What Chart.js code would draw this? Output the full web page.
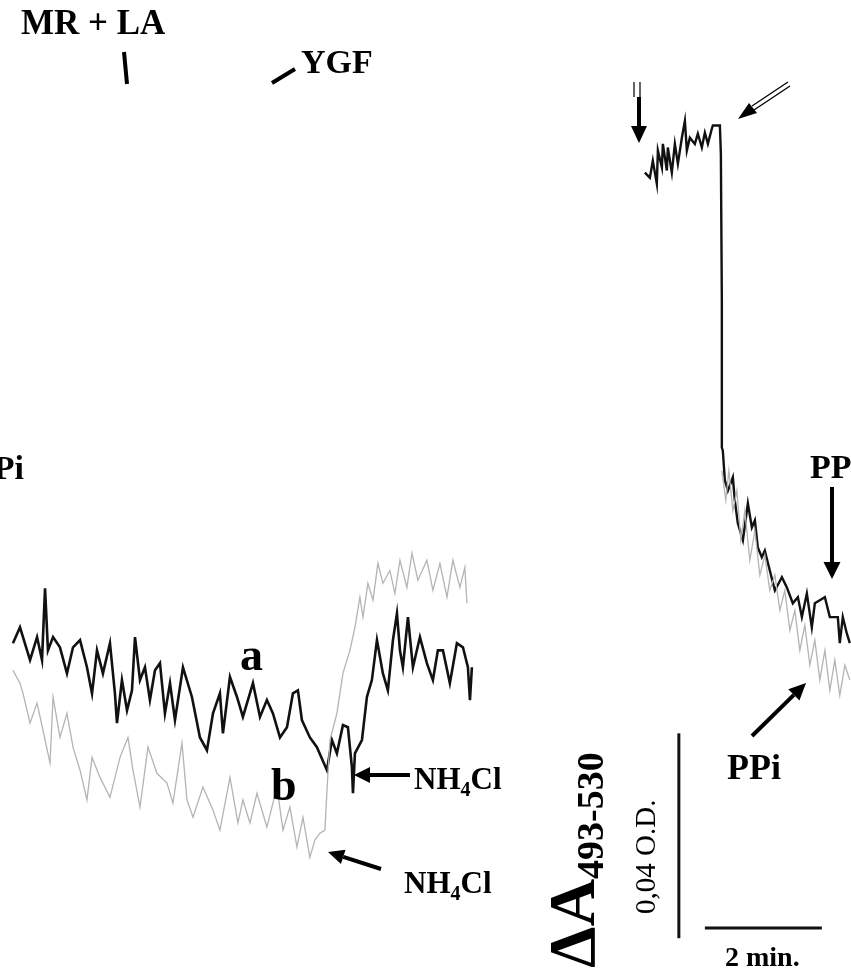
<!DOCTYPE html>
<html><head><meta charset="utf-8">
<script src="https://cdn.jsdelivr.net/npm/chart.js@4.4.0/dist/chart.umd.min.js"></script>
<style>html,body{margin:0;padding:0;background:#fff;overflow:hidden}canvas{display:block}</style>
</head><body>
<canvas id="c" width="851" height="973" style="width:851px;height:973px"></canvas>
<script>
// Time in seconds, ΔA(493-530) in mOD (0.04 O.D. = 40 mOD)
const aTime=[13.3,20.5,30.8,38.0,43.1,46.2,49.2,54.4,61.5,68.7,74.9,82.1,89.2,94.4,99.5,105.6,112.8,117.9,120.0,125.1,130.3,135.4,138.5,143.6,148.7,153.8,159.0,164.1,169.2,174.4,179.5,187.7,196.9,205.1,212.3,218.5,225.6,228.7,235.9,243.1,249.2,259.5,266.7,273.8,280.0,287.2,294.4,300.5,305.6,309.7,317.9,325.1,335.4,340.5,345.6,351.8,356.9,361.0,362.1,364.1,371.3,376.4,381.5,386.7,392.8,397.9,403.1,407.2,410.3,413.3,418.5,423.6,430.8,437.9,444.1,449.2,454.4,461.5,468.7,474.9,480.0,482.1,484.1];
const aOD=[64.4,67.5,61.1,65.6,61.1,75.1,63.0,65.6,63.6,58.5,63.6,65.0,59.7,54.6,63.0,58.5,64.4,54.6,48.8,57.2,51.3,55.2,65.6,57.2,59.7,53.3,59.1,60.5,50.7,56.6,49.4,59.7,53.9,46.0,43.5,50.7,54.6,46.8,57.8,53.9,50.0,56.6,50.0,53.3,50.7,46.0,48.0,54.6,55.2,49.4,46.0,44.1,39.6,45.5,42.9,48.4,48.0,40.2,35.1,42.9,45.5,53.9,57.2,65.0,58.5,55.2,65.0,70.2,63.0,59.7,69.5,59.7,65.6,60.5,57.2,63.0,63.0,56.6,64.4,63.6,59.7,53.3,59.7];

const bTime=[13.3,20.5,23.6,30.8,38.0,44.1,51.3,54.4,61.5,68.7,74.9,82.1,89.2,94.4,102.6,112.8,123.1,131.3,136.4,143.6,151.8,161.0,171.3,177.4,186.7,191.8,198.0,208.2,218.5,225.6,235.9,244.1,249.2,256.4,263.6,273.8,284.1,290.3,297.4,304.6,310.8,317.9,323.1,328.2,333.3,336.4,338.5,345.6,351.8,359.0,364.1,369.2,372.3,377.4,382.6,387.7,392.8,400.0,405.1,410.3,417.4,422.6,428.7,437.9,444.1,451.3,458.5,464.6,471.8,476.9,479.0];
const bOD=[59.1,56.6,54.6,48.8,52.7,47.4,41.0,53.9,46.0,50.7,44.1,39.6,33.8,42.1,38.2,34.3,42.1,46.0,39.6,32.4,44.1,39.0,37.1,33.2,44.9,33.8,30.4,36.3,31.8,27.9,38.2,29.3,33.8,29.3,35.1,28.5,36.3,27.9,32.4,24.6,30.4,22.6,26.0,27.3,27.9,39.0,45.5,50.7,58.5,63.0,67.5,73.4,69.5,76.1,72.8,80.0,76.1,78.6,74.1,80.6,75.3,82.0,76.7,80.6,74.7,80.0,73.4,80.6,75.3,79.2,72.2];

const cTime=[661.5,666.7,669.7,673.8,674.9,679.0,680.0,684.1,685.1,689.2,692.3,695.4,699.5,702.6,704.6,707.7,712.8,715.9,720.0,723.1,726.2,730.3,731.3,738.5,739.5,740.5,740.5,741.5,743.6,746.7,751.8,753.8,756.9,762.1,767.2,771.3,774.4,777.4,781.5,784.6,789.7,794.9,802.1,807.2,813.3,818.5,822.6,827.7,832.8,835.9,841.0,846.2,851.3,856.4,859.5,861.5,864.6,868.7,871.8];
const cOD=[156.3,155.3,158.6,154.1,160.6,157.3,161.9,156.7,161.2,156.3,161.9,158.0,163.1,166.4,160.6,163.1,161.9,163.9,161.2,164.1,161.9,164.9,165.5,165.5,160.0,131.3,102.6,102.0,96.2,94.2,96.8,92.3,87.8,84.5,91.7,87.0,88.4,83.1,81.2,82.5,78.6,74.7,77.3,75.3,72.2,73.4,69.5,74.1,67.5,72.2,72.8,73.4,69.5,69.5,69.5,64.4,69.5,66.3,64.4];

const dTime=[740.5,744.6,747.7,751.8,755.9,760.0,764.1,769.2,774.4,779.5,784.6,789.7,794.9,800.0,805.1,810.3,815.4,820.5,825.6,830.8,835.9,841.0,846.2,851.3,856.4,861.5,866.7,871.8];
const dOD=[98.1,92.3,98.1,90.3,94.2,84.5,90.3,80.6,86.4,77.7,81.6,74.7,77.7,70.8,74.7,66.9,70.8,63.0,67.9,60.1,65.0,57.2,63.0,55.2,61.1,54.2,60.1,57.2];

// Scale bars: 0.04 O.D. and 2 min
const odBarTime=[696.4,696.4];
const odBarOD=[6.8,46.8];
const timeBarTime=[723.1,843.1];
const timeBarOD=[8.8,8.8];

const pts=(t,v)=>t.map((x,i)=>({x:x,y:v[i]}));

function arrow(ctx,x1,y1,x2,y2,w,hl,hw){
  const ang=Math.atan2(y2-y1,x2-x1);
  const bx=x2-hl*Math.cos(ang), by=y2-hl*Math.sin(ang);
  ctx.lineWidth=w; ctx.lineCap='butt';
  ctx.beginPath(); ctx.moveTo(x1,y1); ctx.lineTo(bx,by); ctx.stroke();
  ctx.beginPath(); ctx.moveTo(x2,y2);
  ctx.lineTo(bx+hw/2*Math.sin(ang), by-hw/2*Math.cos(ang));
  ctx.lineTo(bx-hw/2*Math.sin(ang), by+hw/2*Math.cos(ang));
  ctx.closePath(); ctx.fill();
}
function nh4cl(ctx,x,y){
  ctx.font='bold 31px "Liberation Serif", "DejaVu Serif", serif';
  ctx.fillText('NH',x,y);
  let w=ctx.measureText('NH').width;
  ctx.font='bold 20px "Liberation Serif", serif';
  ctx.fillText('4',x+w,y+7);
  let w2=ctx.measureText('4').width;
  ctx.font='bold 31px "Liberation Serif", serif';
  ctx.fillText('Cl',x+w+w2,y);
}

const notes={
  id:'notes',
  afterDraw(chart){
    const ctx=chart.ctx;
    ctx.save();
    ctx.fillStyle='#000'; ctx.strokeStyle='#000';
    ctx.textBaseline='alphabetic'; ctx.textAlign='left';
    const serifB=s=>'bold '+s+'px "Liberation Serif", "DejaVu Serif", serif';
    ctx.font=serifB(35);
    ctx.fillText('MR + LA',21,34);
    ctx.font=serifB(34);
    ctx.fillText('YGF',301,73);
    ctx.lineWidth=4; ctx.lineCap='butt';
    ctx.beginPath(); ctx.moveTo(124,52); ctx.lineTo(127,84); ctx.stroke();
    ctx.beginPath(); ctx.moveTo(272,83); ctx.lineTo(295,69); ctx.stroke();
    ctx.font=serifB(34);
    ctx.fillText('PPi',-27,479);
    ctx.fillText('PPi',810,478);
    ctx.font=serifB(36);
    ctx.fillText('PPi',727,779);
    ctx.font=serifB(46);
    ctx.fillText('a',240,670);
    ctx.fillText('b',271,800);
    nh4cl(ctx,414,789);
    nh4cl(ctx,404,893);
    arrow(ctx,410,775,354,775,4,16,16);
    arrow(ctx,381,869,328,852,4,16,15);
    arrow(ctx,832,487,832,579,4,17,17);
    arrow(ctx,752,736,806,683,4,17,16);
    // top right arrows
    ctx.lineWidth=1.2;
    ctx.beginPath(); ctx.moveTo(634,82); ctx.lineTo(634,97); ctx.moveTo(640,82); ctx.lineTo(640,97); ctx.stroke();
    arrow(ctx,639,97,639,143,4,17,16);
    ctx.lineWidth=1.3;
    ctx.beginPath(); ctx.moveTo(788,82); ctx.lineTo(752,106); ctx.moveTo(790,86); ctx.lineTo(754,110); ctx.stroke();
    ctx.beginPath(); ctx.moveTo(738,119); ctx.lineTo(749,103); ctx.lineTo(757,113); ctx.closePath(); ctx.fill();
    // scale bar labels
    ctx.font=serifB(28);
    ctx.fillText('2 min.',725,966);
    ctx.save(); ctx.translate(655,914); ctx.rotate(-Math.PI/2);
    ctx.font='29px "Liberation Serif", serif';
    ctx.fillText('0,04 O.D.',0,0);
    ctx.restore();
    ctx.save(); ctx.translate(594,968); ctx.rotate(-Math.PI/2);
    ctx.font=serifB(66);
    ctx.fillText('\u0394A',0,0);
    const wA=ctx.measureText('\u0394A').width;
    ctx.font=serifB(38);
    ctx.fillText('493-530',wA,9);
    ctx.restore();
    ctx.restore();
  }
};

new Chart(document.getElementById('c'),{
  type:'line',
  data:{datasets:[
    {data:pts(bTime,bOD),borderColor:'#b4b4b4',borderWidth:1.3},
    {data:pts(dTime,dOD),borderColor:'#b4b4b4',borderWidth:1.3},
    {data:pts(aTime,aOD),borderColor:'#111',borderWidth:2.6},
    {data:pts(cTime,cOD),borderColor:'#111',borderWidth:2.4},
    {data:pts(odBarTime,odBarOD),borderColor:'#111',borderWidth:3},
    {data:pts(timeBarTime,timeBarOD),borderColor:'#111',borderWidth:3}
  ]},
  options:{
    responsive:false,devicePixelRatio:1,animation:false,
    layout:{padding:0},
    elements:{point:{radius:0},line:{tension:0,borderJoinStyle:'miter'}},
    plugins:{legend:{display:false},tooltip:{enabled:false}},
    scales:{
      x:{type:'linear',display:false,min:0,max:873},
      y:{type:'linear',display:false,min:0,max:190}
    }
  },
  plugins:[notes]
});
</script>
</body></html>
